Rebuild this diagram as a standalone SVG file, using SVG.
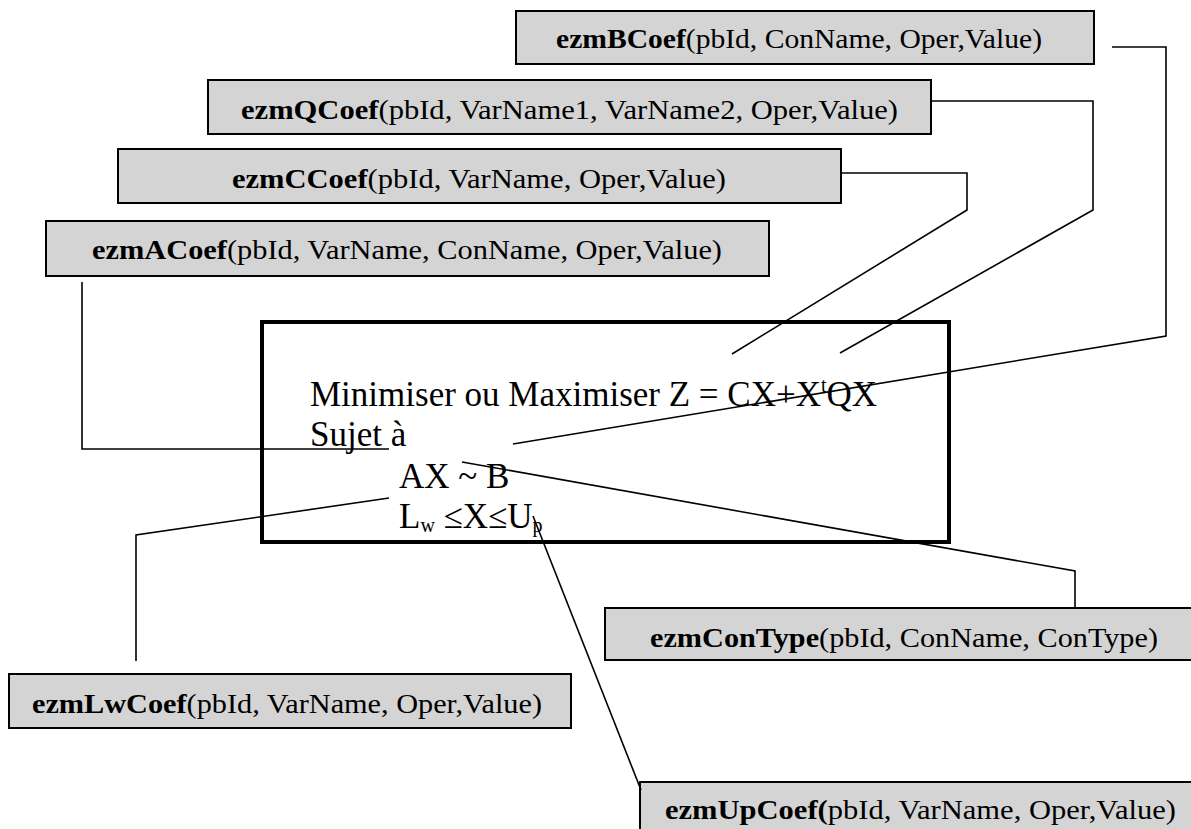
<svg xmlns="http://www.w3.org/2000/svg" width="1191" height="829" viewBox="0 0 1191 829">
<style>
.box{fill:#d4d4d4;stroke:#000;stroke-width:2}
.main{fill:none;stroke:#000;stroke-width:4}
.lbl{font-family:"Liberation Serif","Times New Roman",serif;font-size:28px;fill:#000}
.b{font-weight:bold}
.eq{font-family:"Liberation Serif","Times New Roman",serif;font-size:35px;fill:#000}
.con{fill:none;stroke:#000;stroke-width:1.6}
</style>
<rect width="1191" height="829" fill="#fff"/>
<g id="bcoef"><rect class="box" x="516" y="11" width="578" height="53"/><text class="lbl" x="556" y="48" textLength="486" lengthAdjust="spacingAndGlyphs"><tspan class="b">ezmBCoef</tspan>(pbId, ConName, Oper,Value)</text></g>
<g id="qcoef"><rect class="box" x="208" y="80" width="723" height="54"/><text class="lbl" x="241" y="119" textLength="657" lengthAdjust="spacingAndGlyphs"><tspan class="b">ezmQCoef</tspan>(pbId, VarName1, VarName2, Oper,Value)</text></g>
<g id="ccoef"><rect class="box" x="118" y="149" width="723" height="54"/><text class="lbl" x="232" y="188" textLength="494" lengthAdjust="spacingAndGlyphs"><tspan class="b">ezmCCoef</tspan>(pbId, VarName, Oper,Value)</text></g>
<g id="acoef"><rect class="box" x="46" y="221" width="723" height="55"/><text class="lbl" x="92" y="259" textLength="630" lengthAdjust="spacingAndGlyphs"><tspan class="b">ezmACoef</tspan>(pbId, VarName, ConName, Oper,Value)</text></g>
<g id="problem"><rect class="main" x="262" y="322" width="687" height="220"/>
<text class="eq" x="310" y="406">Minimiser ou Maximiser Z = CX+X<tspan font-size="20" dy="-14">t</tspan><tspan dy="14">QX</tspan></text>
<text class="eq" x="310" y="446">Sujet à</text>
<text class="eq" x="399" y="488">AX ~ B</text>
<text class="eq" x="399" y="528">L<tspan font-size="20" dy="4">w</tspan><tspan dy="-4"> ≤X≤U</tspan><tspan font-size="20" dy="4">p</tspan></text>
</g>
<g id="contype"><rect class="box" x="605" y="608" width="600" height="52"/><text class="lbl" x="650" y="647" textLength="508" lengthAdjust="spacingAndGlyphs"><tspan class="b">ezmConType</tspan>(pbId, ConName, ConType)</text></g>
<g id="lwcoef"><rect class="box" x="9" y="674" width="562" height="54"/><text class="lbl" x="32" y="713" textLength="510" lengthAdjust="spacingAndGlyphs"><tspan class="b">ezmLwCoef</tspan>(pbId, VarName, Oper,Value)</text></g>
<g id="upcoef"><rect class="box" x="640" y="782" width="600" height="60"/><text class="lbl" x="665" y="819" textLength="511" lengthAdjust="spacingAndGlyphs"><tspan class="b">ezmUpCoef(</tspan>pbId, VarName, Oper,Value)</text></g>
<g id="connectors">
<polyline class="con" points="1112,47 1166,47 1166,336 513,444"/>
<polyline class="con" points="931,101 1093,101 1093,210 840,353"/>
<polyline class="con" points="841,173 967,173 967,210 732,354"/>
<polyline class="con" points="82,282 82,449 389,449"/>
<polyline class="con" points="389,498 136,535 136,661"/>
<polyline class="con" points="462,462 1075,571 1075,608"/>
<polyline class="con" points="533,516 641,790"/>
</g>
</svg>
